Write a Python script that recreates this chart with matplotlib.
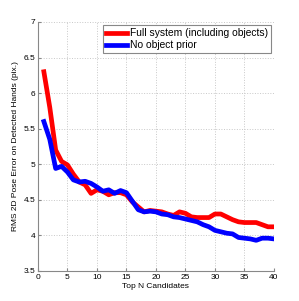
import numpy as np
import matplotlib
matplotlib.use("Agg")
import matplotlib.pyplot as plt

plt.rcParams['font.family'] = ['Liberation Sans', 'DejaVu Sans']

top_n = list(range(1, 41))
full_system = [6.30, 5.80, 5.20, 5.04, 4.99, 4.86, 4.75, 4.71, 4.59, 4.64,
               4.62, 4.57, 4.60, 4.60, 4.57, 4.47, 4.40, 4.33, 4.35, 4.34,
               4.33, 4.30, 4.28, 4.33, 4.31, 4.26, 4.25, 4.25, 4.25, 4.30,
               4.30, 4.26, 4.22, 4.19, 4.18, 4.18, 4.18, 4.15, 4.12, 4.12]
no_object = [5.60, 5.35, 4.94, 4.97, 4.89, 4.78, 4.75, 4.76, 4.73, 4.68,
             4.62, 4.64, 4.59, 4.63, 4.60, 4.48, 4.36, 4.33, 4.34, 4.33,
             4.30, 4.29, 4.26, 4.25, 4.23, 4.21, 4.19, 4.15, 4.12, 4.07,
             4.05, 4.03, 4.02, 3.97, 3.96, 3.95, 3.93, 3.96, 3.96, 3.95]

labels = ["Full system (including objects)", "No object prior"]

fig = plt.figure(figsize=(2.99, 3.01), dpi=100)
ax = fig.add_axes([0.127, 0.1, 0.789, 0.827])

ax.plot(top_n, full_system, color="#ff0000", lw=3.4, label=labels[0])
ax.plot(top_n, no_object, color="#0000ff", lw=3.4, label=labels[1])

ax.set_xlim(0, 40)
ax.set_ylim(3.5, 7)
ax.set_xticks(range(0, 41, 5))
ax.set_yticks([3.5, 4, 4.5, 5, 5.5, 6, 6.5, 7])
ax.set_yticklabels(["3.5", "4", "4.5", "5", "5.5", "6", "6.5", "7"])
ax.grid(True, linestyle=":", color="#c8c8c8", linewidth=0.7)
ax.tick_params(direction="in", labelsize=6, length=2, color="#888888", pad=2)
for side in ["top", "right"]:
    ax.spines[side].set_visible(False)
for side in ["left", "bottom"]:
    ax.spines[side].set_color("#888888")
    ax.spines[side].set_linewidth(0.8)

ax.set_xlabel("Top N Candidates", fontsize=6, labelpad=2)
ax.set_ylabel("RMS 2D Pose Error on Detected Hands (pix.)", fontsize=6, labelpad=3)

leg = ax.legend(loc="upper right", fontsize=7.4, fancybox=False, framealpha=1,
                handlelength=2.0, borderpad=0.3, labelspacing=0.2,
                handletextpad=0.3, borderaxespad=0.3)
leg.get_frame().set_edgecolor("#888888")
leg.get_frame().set_linewidth(0.8)

fig.savefig("out.png", dpi=100)
